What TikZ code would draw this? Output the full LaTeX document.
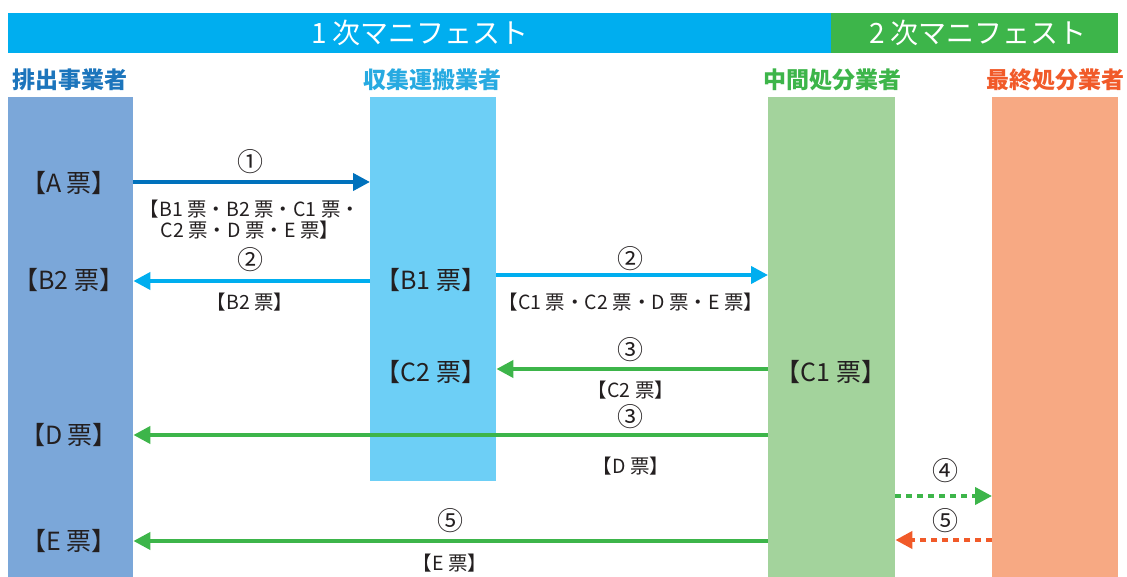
\documentclass[tikz,border=0pt]{standalone}
\usepackage{fontspec}
\setmainfont{Noto Sans CJK JP}
\usetikzlibrary{arrows.meta}
\definecolor{barblue}{HTML}{00AEEF}
\definecolor{bargreen}{HTML}{3DB54A}
\definecolor{colA}{HTML}{7BA7D9}
\definecolor{colB}{HTML}{6DCFF6}
\definecolor{colC}{HTML}{A3D39C}
\definecolor{colD}{HTML}{F7A983}
\definecolor{adark}{HTML}{0071BC}
\definecolor{acyan}{HTML}{00AEEF}
\definecolor{agreen}{HTML}{3DB54A}
\definecolor{aorange}{HTML}{F15A29}
\definecolor{hA}{HTML}{1C75BC}
\definecolor{hB}{HTML}{27AAE1}
\definecolor{txt}{HTML}{231F20}
\tikzset{
  colbox/.style={draw=none, inner sep=0pt, anchor=north west},
  ticket/.style={inner sep=0pt, text=txt, font=\fontsize{25}{27}\selectfont},
  lbl/.style={inner sep=0pt, text=txt, font=\fontsize{19.5}{21}\selectfont, align=center},
  num/.style={inner sep=0pt, text=txt, font=\fontsize{26}{28}\selectfont},
  head/.style={inner sep=0pt, font=\bfseries\fontsize{23}{25}\selectfont},
  bartext/.style={inner sep=0pt, text=white, font=\fontsize{28}{30}\selectfont},
  flow/.style={line width=4pt, -{Triangle[length=17pt,width=17pt]}},
  dotflow/.style={line width=4pt, dash pattern=on 6pt off 5pt, -{Triangle[length=17pt,width=17pt]}}
}
\begin{document}
\begin{tikzpicture}[x=1pt,y=-1pt]
\useasboundingbox (0,0) rectangle (1127,577);
% top bars
\fill[barblue] (8,13) rectangle (831,53);
\fill[bargreen] (831,13) rectangle (1118,53);
\node[bartext] (t1) at (420,33) {1 次マニフェスト};
\node[bartext] (t2) at (978,33) {2 次マニフェスト};
% headers
\node[head, text=hA] (h1) at (70,80) {排出事業者};
\node[head, text=hB] (h2) at (432,80) {収集運搬業者};
\node[head, text=agreen] (h3) at (832,80) {中間処分業者};
\node[head, text=aorange] (h4) at (1055,80) {最終処分業者};
% columns
\node[colbox, fill=colA, minimum width=125pt, minimum height=480pt] (c1) at (8,97) {};
\node[colbox, fill=colB, minimum width=126pt, minimum height=384pt] (c2) at (370,97) {};
\node[colbox, fill=colC, minimum width=127pt, minimum height=480pt] (c3) at (768,97) {};
\node[colbox, fill=colD, minimum width=126pt, minimum height=480pt] (c4) at (992,97) {};
% tickets
\node[ticket] (tA) at (69,183) {【A 票】};
\node[ticket] (tB2) at (69,280) {【B2 票】};
\node[ticket] (tD) at (69,435) {【D 票】};
\node[ticket] (tE) at (69,541) {【E 票】};
\node[ticket] (tB1) at (431,280) {【B1 票】};
\node[ticket] (tC2) at (431,372) {【C2 票】};
\node[ticket] (tC1) at (831,372) {【C1 票】};
% coordinates for arrow rows
\coordinate (r1) at (0,182);
\coordinate (r2) at (0,281);
\coordinate (r3) at (0,275);
\coordinate (r4) at (0,369);
\coordinate (r5) at (0,435);
\coordinate (r6) at (0,496);
\coordinate (r7) at (0,540);
\coordinate (r8) at (0,541);
% arrows
\draw[flow, adark] (c1.east |- r1) -- (c2.west |- r1);
\draw[flow, acyan] (c2.west |- r2) -- (c1.east |- r2);
\draw[flow, acyan] (c2.east |- r3) -- (c3.west |- r3);
\draw[flow, agreen] (c3.west |- r4) -- (c2.east |- r4);
\draw[flow, agreen] (c3.west |- r5) -- (c1.east |- r5);
\draw[dotflow, agreen] (c3.east |- r6) -- (c4.west |- r6);
\draw[dotflow, aorange] (c4.west |- r7) -- (c3.east |- r7);
\draw[flow, agreen] (c3.west |- r8) -- (c1.east |- r8);
% labels
\node[num] (n1) at (250,162) {①};
\node[lbl] (l1) at (250,220) {【B1 票・B2 票・C1 票・\\C2 票・D 票・E 票】};
\node[num] (n2a) at (250,260) {②};
\node[lbl] (l2a) at (250,302) {【B2 票】};
\node[num] (n2b) at (630,259) {②};
\node[lbl] (l2b) at (631,302) {【C1 票・C2 票・D 票・E 票】};
\node[num] (n3a) at (630,350) {③};
\node[lbl] (l3a) at (631,390) {【C2 票】};
\node[num] (n3b) at (630,417) {③};
\node[lbl] (l3b) at (631,466) {【D 票】};
\node[num] (n4) at (945,471) {④};
\node[num] (n5b) at (945,521) {⑤};
\node[num] (n5a) at (450,521) {⑤};
\node[lbl] (l5a) at (450,563) {【E 票】};
\end{tikzpicture}
\end{document}
